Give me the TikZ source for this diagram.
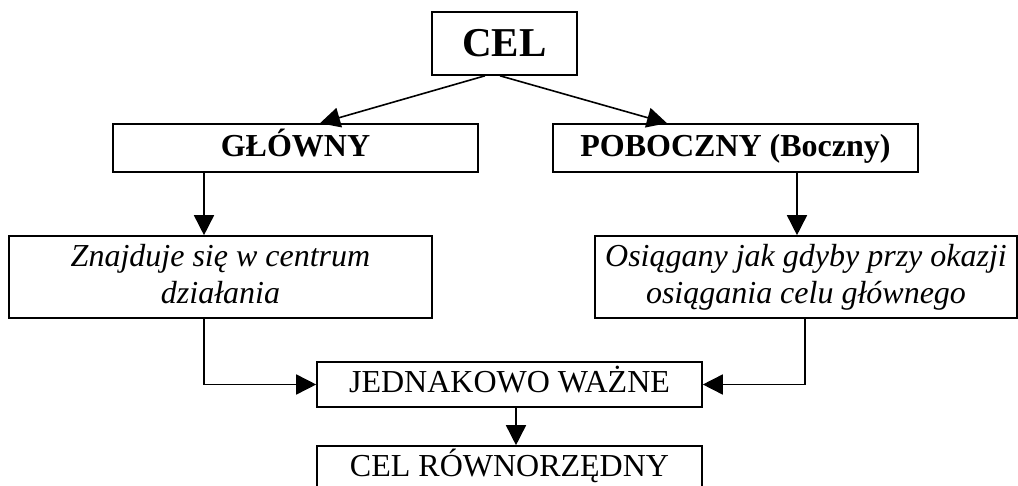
\documentclass[tikz,border=0pt]{standalone}
\usepackage{fontspec}
\setmainfont{Liberation Serif}
\usetikzlibrary{arrows.meta,calc}
\tikzset{
  box/.style={draw, line width=1.6pt, inner sep=0pt, font=\fontsize{32}{37}\selectfont,
              text height=22pt, text depth=5pt},
  arr/.style={line width=1.6pt, -{Triangle[length=20pt,width=20pt]}}
}
\begin{document}
\begin{tikzpicture}[x=1pt,y=-1pt]
\useasboundingbox (0,0) rectangle (1018,486);
\clip (0,0) rectangle (1018,486);
\node[box, minimum width=145pt, minimum height=63pt, font=\fontsize{41}{45}\selectfont\bfseries,
      text height=28pt, text depth=1pt] (cel) at (504.5,43.5) {CEL};
\node[box, minimum width=365pt, minimum height=48pt, font=\fontsize{32}{37}\selectfont\bfseries,
      text depth=4pt] (glowny) at (295.5,148) {GŁÓWNY};
\node[box, minimum width=365pt, minimum height=48pt, font=\fontsize{32}{37}\selectfont\bfseries,
      text depth=4pt] (pob) at (735.5,148) {POBOCZNY (Boczny)};
\node[box, minimum width=423pt, minimum height=82pt, align=center, text height=, text depth=,
      font=\fontsize{32}{37}\selectfont\itshape] (znaj) at (220.5,277)
      {Znajduje się w centrum\\działania\vphantom{ę}};
\node[box, minimum width=422pt, minimum height=82pt, align=center, text height=, text depth=,
      font=\fontsize{32}{37}\selectfont\itshape] (osi) at (806,277)
      {Osiągany jak gdyby przy okazji\\osiągania celu głównego};
\node[box, minimum width=385pt, minimum height=45pt] (jed) at (509.5,384.5) {JEDNAKOWO WAŻNE};
\node[box, minimum width=385pt, minimum height=46pt, text depth=8pt] (celr) at (509.5,469) {CEL RÓWNORZĘDNY};

\draw[arr] ($(cel.south)+(-19.5,0)$) -- ($(glowny.north)+(24.5,0)$);
\draw[arr] ($(cel.south)+(-4.5,0)$) -- ($(pob.north)+(-68.5,0)$);
\draw[arr] ($(glowny.south)+(-91.5,0)$) coordinate (a) -- (a |- znaj.north);
\draw[arr] ($(pob.south)+(61.5,0)$) coordinate (c) -- (c |- osi.north);
\draw[arr] (a |- znaj.south) |- (jed.west);
\draw[arr] ($(osi.south)+(-1,0)$) |- (jed.east);
\draw[arr] ($(jed.south)+(6.5,0)$) coordinate (b) -- (b |- celr.north);
\end{tikzpicture}
\end{document}
